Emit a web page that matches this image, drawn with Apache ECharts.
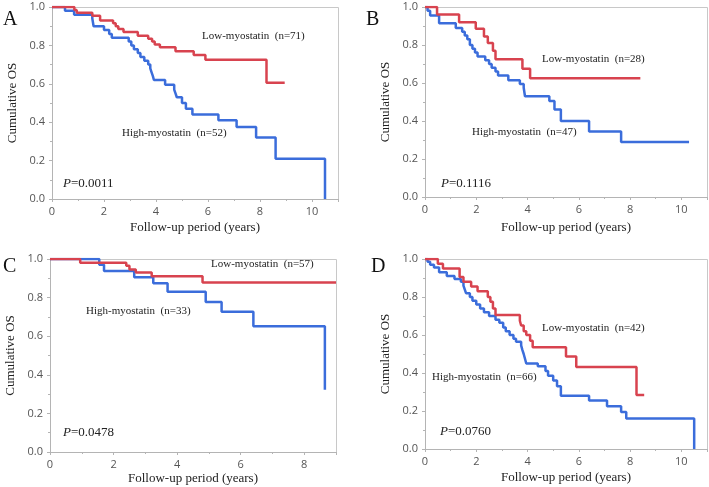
<!DOCTYPE html>
<html><head><meta charset="utf-8">
<script src="https://cdn.jsdelivr.net/npm/echarts@6/dist/echarts.min.js"></script>
<style>html,body{margin:0;padding:0;background:#fff}#c{width:709px;height:487px}</style>
</head><body><div id="c"></div>
<script>
// ---- Data (time in years, cumulative survival) ----
const aLowT  = [0,0.86,0.95,1.55,1.85,2.35,2.45,2.55,2.75,3.3,3.7,3.85,3.95,4.15,4.75,5.45,5.9,8.25,8.95];
const aLowS  = [1,0.985,0.97,0.955,0.93,0.915,0.9,0.885,0.87,0.85,0.835,0.82,0.805,0.79,0.77,0.75,0.725,0.605,0.605];
const aHighT = [0,0.5,0.85,1.55,1.6,2.0,2.2,2.3,2.95,3.05,3.15,3.3,3.4,3.55,3.7,3.78,3.83,3.88,3.92,4.35,4.7,4.75,4.8,5.0,5.15,5.4,6.4,7.1,7.85,8.6,10.5];
const aHighS = [1,0.98,0.96,0.94,0.9,0.88,0.86,0.84,0.82,0.8,0.78,0.76,0.74,0.72,0.7,0.68,0.66,0.64,0.62,0.595,0.57,0.55,0.53,0.5,0.47,0.44,0.41,0.375,0.32,0.21,0];

const bLowT  = [0,0.47,1.33,1.98,2.3,2.45,2.65,2.75,3.8,4.1,8.4];
const bLowS  = [1,0.96,0.92,0.885,0.845,0.81,0.77,0.725,0.675,0.625,0.625];
const bHighT = [0,0.1,0.2,0.55,1.2,1.45,1.55,1.65,1.75,1.85,1.95,2.05,2.35,2.5,2.6,2.75,2.85,3.25,3.7,3.85,3.9,4.85,5.05,5.3,6.4,7.65,10.3];
const bHighS = [1,0.98,0.955,0.915,0.89,0.87,0.85,0.83,0.8,0.78,0.76,0.74,0.72,0.7,0.68,0.66,0.64,0.615,0.595,0.575,0.53,0.505,0.46,0.4,0.345,0.29,0.29];

const cLowT  = [0,0.95,2.4,2.5,2.7,3.2,4.8,9.0];
const cLowS  = [1,0.98,0.965,0.945,0.93,0.91,0.878,0.878];
const cHighT = [0,1.55,1.7,2.65,3.25,3.7,4.9,5.4,6.4,8.65];
const cHighS = [1,0.97,0.938,0.905,0.875,0.83,0.777,0.727,0.652,0.322];

const dLowT  = [0,0.5,0.7,1.35,1.5,1.8,2.05,2.45,2.55,2.65,2.75,3.7,3.75,3.85,3.95,4.1,4.2,5.5,5.9,8.25,8.55];
const dLowS  = [1,0.975,0.95,0.905,0.88,0.855,0.83,0.8,0.775,0.74,0.705,0.675,0.65,0.62,0.6,0.57,0.535,0.487,0.432,0.284,0.284];
const dHighT = [0,0.1,0.2,0.35,0.55,0.85,1.15,1.4,1.5,1.55,1.6,1.75,1.85,2.0,2.15,2.3,2.5,2.75,2.9,3.05,3.15,3.3,3.45,3.55,3.75,3.8,3.85,3.9,3.95,4.4,4.7,4.8,5.0,5.15,5.3,6.4,7.1,7.65,7.85,10.5];
const dHighS = [1,0.985,0.97,0.955,0.93,0.91,0.895,0.88,0.86,0.84,0.82,0.8,0.78,0.76,0.74,0.72,0.7,0.68,0.665,0.64,0.62,0.6,0.58,0.565,0.545,0.52,0.5,0.475,0.45,0.435,0.41,0.385,0.36,0.33,0.28,0.255,0.225,0.195,0.16,0];

const panelLetters = ['A','B','C','D'];
const lowLabels  = ['Low-myostatin  (n=71)','Low-myostatin  (n=28)','Low-myostatin  (n=57)','Low-myostatin  (n=42)'];
const highLabels = ['High-myostatin  (n=52)','High-myostatin  (n=47)','High-myostatin  (n=33)','High-myostatin  (n=66)'];
const pValues = ['0.0011','0.1116','0.0478','0.0760'];
const xMaxes = [11, 11, 9, 11];
const yTitle = 'Cumulative OS';
const xTitle = 'Follow-up period (years)';

// ---- Layout ----
const grids = [
  {left:52, top:7, width:286, height:192},
  {left:425, top:7, width:282, height:190},
  {left:50, top:259, width:286, height:193},
  {left:425, top:259, width:282, height:190}
];
const xNameGaps = [22, 24, 20, 22];
const RED = '#d8434f', BLUE = '#3b6ddb';
const SERIF = '"Liberation Serif","Times New Roman",serif';
const SANS = '"Open Sans","DejaVu Sans",sans-serif';

const zip = (t, s) => t.map((v, i) => [v, s[i]]);
const curves = [
  [zip(aLowT,aLowS), zip(aHighT,aHighS)],
  [zip(bLowT,bLowS), zip(bHighT,bHighS)],
  [zip(cLowT,cLowS), zip(cHighT,cHighS)],
  [zip(dLowT,dLowS), zip(dHighT,dHighS)]
];

const axisLineStyle = {color:'#b4b4b4', width:1};
const xAxes = [], yAxes = [], series = [];
grids.forEach((g, i) => {
  xAxes.push({
    type:'value', gridIndex:i, min:0, max:xMaxes[i], interval:2,
    name:xTitle, nameLocation:'middle', nameGap:xNameGaps[i],
    nameTextStyle:{fontFamily:SERIF, fontSize:13, color:'#222'},
    axisLine:{show:true, lineStyle:axisLineStyle},
    axisTick:{show:true, length:3, lineStyle:axisLineStyle},
    minorTick:{show:true, splitNumber:2, length:2, lineStyle:axisLineStyle},
    axisLabel:{fontFamily:SANS, fontSize:11, color:'#555', margin:7, showMaxLabel:false, showMinLabel:true},
    splitLine:{show:false}
  });
  yAxes.push({
    type:'value', gridIndex:i, min:0, max:1, interval:0.2,
    name:yTitle, nameLocation:'middle', nameGap:33,
    nameTextStyle:{fontFamily:SERIF, fontSize:13, color:'#222'},
    axisLine:{show:true, lineStyle:axisLineStyle},
    axisTick:{show:true, length:3, lineStyle:axisLineStyle},
    minorTick:{show:true, splitNumber:2, length:2, lineStyle:axisLineStyle},
    axisLabel:{fontFamily:SANS, fontSize:11, color:'#555', margin:7, formatter:v => v.toFixed(1)},
    splitLine:{show:false}
  });
  series.push({
    type:'line', xAxisIndex:i, yAxisIndex:i, step:'end', data:curves[i][1],
    showSymbol:false, symbol:'none', lineStyle:{color:BLUE, width:2.5}, itemStyle:{color:BLUE}, z:2
  });
  series.push({
    type:'line', xAxisIndex:i, yAxisIndex:i, step:'end', data:curves[i][0],
    showSymbol:false, symbol:'none', lineStyle:{color:RED, width:2.5}, itemStyle:{color:RED}, z:3
  });
});

// ---- annotation positions ----
const lowPos  = [[202,36],[542,59],[211,264],[542,328]];
const highPos = [[122,133],[472,132],[86,311],[432,377]];
const pPos    = [[63,184],[441,184],[63,433],[440,432]];
const letterPos = [[3,20],[366,20],[3,267],[371,267]];

const graphic = [];
grids.forEach((g, i) => {
  graphic.push({type:'rect', z:0, silent:true,
    shape:{x:g.left + 0.5, y:g.top + 0.5, width:g.width, height:g.height},
    style:{fill:'none', stroke:'#c8c8c8', lineWidth:1}});
  graphic.push({type:'text', x:letterPos[i][0], y:letterPos[i][1],
    style:{text:panelLetters[i], font:'20px ' + SERIF, fill:'#111', verticalAlign:'middle', align:'left'}});
  graphic.push({type:'text', x:lowPos[i][0], y:lowPos[i][1],
    style:{text:lowLabels[i], font:'11px ' + SERIF, fill:'#222', verticalAlign:'middle', align:'left'}});
  graphic.push({type:'text', x:highPos[i][0], y:highPos[i][1],
    style:{text:highLabels[i], font:'11px ' + SERIF, fill:'#222', verticalAlign:'middle', align:'left'}});
  graphic.push({type:'text', x:pPos[i][0], y:pPos[i][1],
    style:{text:'{i|P}=' + pValues[i], font:'13px ' + SERIF, fill:'#222', verticalAlign:'middle', align:'left',
      rich:{i:{fontStyle:'italic', fontFamily:SERIF, fontSize:13, fill:'#222'}}}});
});

const chart = echarts.init(document.getElementById('c'), null, {renderer:'canvas'});
chart.setOption({
  animation:false,
  backgroundColor:'#fff',
  grid:grids.map(g => Object.assign({containLabel:false}, g)),
  xAxis:xAxes, yAxis:yAxes, series:series, graphic:graphic
});
</script></body></html>
